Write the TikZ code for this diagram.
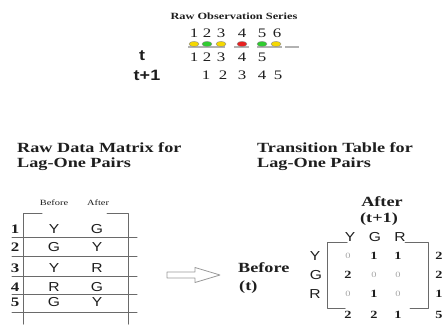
\documentclass[tikz,border=0pt]{standalone}
\usepackage{fontspec}
\setmainfont{Liberation Serif}[FakeStretch=1.3]
\setsansfont{Liberation Sans}[FakeStretch=1.2]
\usepackage{tikz}
\usetikzlibrary{positioning}
\definecolor{obsyellow}{HTML}{F5D800}
\definecolor{obsgreen}{HTML}{2FCC2F}
\definecolor{obsred}{HTML}{E82020}
\definecolor{inkgray}{HTML}{1E1E1E}
\definecolor{rulegray}{HTML}{6A6A6A}
\tikzset{
  txt/.style={inner sep=0pt,text=inkgray},
  heading/.style={txt,font=\fontsize{14}{15}\selectfont\bfseries,anchor=base west},
  digit/.style={txt,font=\fontsize{13}{13}\selectfont},
  timelbl/.style={txt,font=\sffamily\fontsize{15}{15}\selectfont\bfseries},
  letter/.style={txt,font=\sffamily\fontsize{13}{13}\selectfont},
  rownum/.style={txt,font=\fontsize{13}{13}\selectfont\bfseries},
  count/.style={txt,font=\fontsize{11}{11}\selectfont\bfseries},
  zero/.style={txt,text=gray!70,font=\fontsize{8}{8}\selectfont},
  tabrule/.style={draw=rulegray,line width=1pt},
  obsdot/.style={draw=black!45,line width=.4pt},
}
\begin{document}
\begin{tikzpicture}[x=1pt,y=-1pt,line cap=round,line join=round]
\path[use as bounding box] (0,0) rectangle (443,324);
% observation series
\node[txt,font=\fontsize{9.5}{10}\selectfont\bfseries] (obstitle) at (234,16) {Raw Observation Series};
\node[digit] (obs1) at (194,33) {1};
\node[digit] (obs2) at (207,33) {2};
\node[digit] (obs3) at (221,33) {3};
\node[digit] (obs4) at (242,33) {4};
\node[digit] (obs5) at (262,33) {5};
\node[digit] (obs6) at (277,33) {6};
\draw[gray!60,line width=2pt,line cap=butt] (188,47) -- (225,47) (234,47) -- (249,47) (257,47) -- (282,47) (285,47) -- (299,47);
\filldraw[obsdot,fill=obsyellow] (194,44) ellipse (5 and 2.6);
\filldraw[obsdot,fill=obsgreen] (207,44) ellipse (5 and 2.6);
\filldraw[obsdot,fill=obsyellow] (221,44) ellipse (5 and 2.6);
\filldraw[obsdot,fill=obsred] (242,44) ellipse (5 and 2.6);
\filldraw[obsdot,fill=obsgreen] (262,44) ellipse (5 and 2.6);
\filldraw[obsdot,fill=obsyellow] (276,44) ellipse (5 and 2.6);
\node[timelbl] (tlbl) at (142,56) {t};
\node[digit] (tA) at (194,57) {1};
\node[digit] (tB) at (207,57) {2};
\node[digit] (tC) at (221,57) {3};
\node[digit] (tD) at (242,57) {4};
\node[digit] (tE) at (262,57) {5};
\node[timelbl] (tnextlbl) at (147,75) {t+1};
\node[digit] (nA) at (206,75) {1};
\node[digit] (nB) at (223,75) {2};
\node[digit] (nC) at (242,75) {3};
\node[digit] (nD) at (262,75) {4};
\node[digit] (nE) at (278,75) {5};
% raw data matrix
\node[heading] (rawtitle) at (17,152) {Raw Data Matrix for};
\node[heading] (rawtitleb) at (17,167) {Lag-One Pairs};
\node[txt,font=\fontsize{8}{8}\selectfont] (colbefore) at (54,203) {Before};
\node[txt,font=\fontsize{8}{8}\selectfont] (colafter) at (98,203) {After};
\draw[tabrule] (42,213) -- (23,213) -- (23,324);
\draw[tabrule] (107,213) -- (128,213) -- (128,324);
\draw[tabrule] (12,237) -- (137,237);
\draw[tabrule] (12,256) -- (137,256);
\draw[tabrule] (12,276) -- (137,276);
\draw[tabrule] (12,294) -- (137,294);
\draw[tabrule] (12,312) -- (137,312);
\node[rownum] (row1) at (15,229) {1};
\node[rownum] (row2) at (15,247) {2};
\node[rownum] (row3) at (15,268) {3};
\node[rownum] (row4) at (15,287) {4};
\node[rownum] (row5) at (15,302) {5};
\node[letter] (bef1) at (54,229) {Y};
\node[letter] (aft1) at (97,229) {G};
\node[letter] (bef2) at (54,247) {G};
\node[letter] (aft2) at (97,247) {Y};
\node[letter] (bef3) at (54,268) {Y};
\node[letter] (aft3) at (97,268) {R};
\node[letter] (bef4) at (54,287) {R};
\node[letter] (aft4) at (97,287) {G};
\node[letter] (bef5) at (54,302) {G};
\node[letter] (aft5) at (97,302) {Y};
% hollow arrow
\draw[draw=gray!80,fill=white,line width=.8pt] (167,272) -- (195,272) -- (195,267.5) -- (220,275) -- (195,282.5) -- (195,278) -- (167,278) -- cycle;
% transition table
\node[heading] (trtitle) at (257,152) {Transition Table for};
\node[heading] (trtitleb) at (257,167) {Lag-One Pairs};
\node[txt,font=\fontsize{14}{14}\selectfont\bfseries] (afterlbl) at (382,202) {After};
\node[txt,font=\fontsize{14}{14}\selectfont\bfseries] (afterlblb) at (379,219) {(t+1)};
\node[txt,font=\fontsize{14}{14}\selectfont\bfseries,anchor=west] (beforelbl) at (238,268) {Before};
\node[txt,font=\fontsize{14}{14}\selectfont\bfseries,anchor=west] (beforelblb) at (239,287) {(t)};
\node[letter] (hdY) at (350,237) {Y};
\node[letter] (hdG) at (375,237) {G};
\node[letter] (hdR) at (400,237) {R};
\draw[tabrule] (347,242) -- (327,242) -- (327,308) -- (345,308);
\draw[tabrule] (405,242) -- (428,242) -- (428,308) -- (410,308);
\node[letter] (lbY) at (315,256) {Y};
\node[letter] (lbG) at (316,275) {G};
\node[letter] (lbR) at (315,294) {R};
\node[zero] (cYY) at (348,256) {0};
\node[count] (cYG) at (374,256) {1};
\node[count] (cYR) at (398,256) {1};
\node[count] (cGY) at (348,275) {2};
\node[zero] (cGG) at (374,275) {0};
\node[zero] (cGR) at (398,275) {0};
\node[zero] (cRY) at (348,294) {0};
\node[count] (cRG) at (374,294) {1};
\node[zero] (cRR) at (398,294) {0};
\node[count] (sumY) at (439,256) {2};
\node[count] (sumG) at (439,275) {2};
\node[count] (sumR) at (439,294) {1};
\node[count] (totY) at (348,315) {2};
\node[count] (totG) at (374,315) {2};
\node[count] (totR) at (398,315) {1};
\node[count] (total) at (439,315) {5};
\end{tikzpicture}
\end{document}
